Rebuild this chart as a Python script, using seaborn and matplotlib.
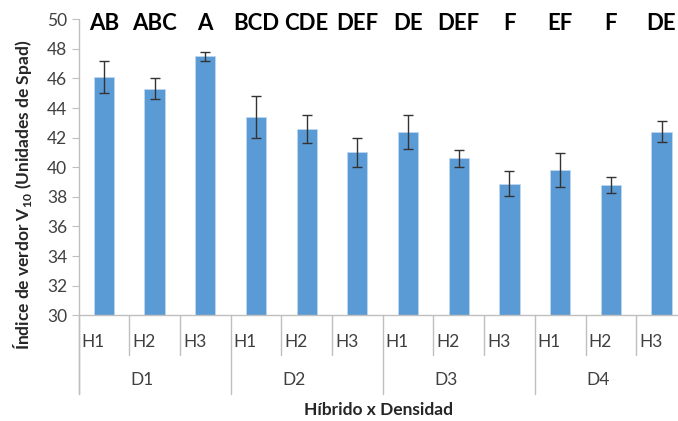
import matplotlib
matplotlib.use("Agg")
import matplotlib.pyplot as plt
import matplotlib.transforms as mtransforms
import numpy as np
import pandas as pd
import seaborn as sns

# Índice de verdor (SPAD) por híbrido y densidad
densidades = ["D1", "D2", "D3", "D4"]
hibridos = ["H1", "H2", "H3"]
valores = [46.1, 45.3, 47.5, 43.4, 42.6, 41.0, 42.4, 40.6, 38.9, 39.8, 38.8, 42.4]
errores = [1.05, 0.7, 0.3, 1.45, 0.95, 0.95, 1.15, 0.55, 0.85, 1.15, 0.55, 0.7]
letras = ["AB", "ABC", "A", "BCD", "CDE", "DEF", "DE", "DEF", "F", "EF", "F", "DE"]
yticks = [30, 32, 34, 36, 38, 40, 42, 44, 46, 48, 50]

sns.set_style("white")
plt.rcParams["font.family"] = ["Lato", "DejaVu Sans"]
plt.rcParams["mathtext.fontset"] = "custom"
plt.rcParams["mathtext.rm"] = "Lato"
plt.rcParams["mathtext.bf"] = "Lato:bold"

df = pd.DataFrame({
    "grupo": [f"{d}-{h}" for d in densidades for h in hibridos],
    "densidad": [d for d in densidades for _ in hibridos],
    "hibrido": [h for _ in densidades for h in hibridos],
    "valor": valores,
    "error": errores,
    "letra": letras,
})

fig = plt.figure(figsize=(6.78, 4.21), dpi=100)
ax = fig.add_axes([78.5 / 678, 1 - 315.3 / 421, 608.4 / 678, 296 / 421])

azul = "#5b9bd5"
gris = "#bfbfbf"
texto = "#404040"

sns.barplot(data=df, x="grupo", y="valor", color=azul, saturation=1,
            width=0.4, edgecolor="#bdd7ee", linewidth=0.6, errorbar=None,
            ax=ax)
pos = np.arange(len(df))
ax.errorbar(pos, df["valor"], yerr=df["error"], fmt="none",
            ecolor="#333333", elinewidth=1.0, capsize=3.3, capthick=1.0)

ax.set_ylim(30, 50)
ax.set_xlim(-0.5, len(df) - 0.5)
ax.set_yticks(yticks)
ax.set_yticklabels([str(v) for v in yticks], fontsize=12.5, color=texto)
ax.tick_params(axis="y", direction="out", length=5, width=0.8, color=gris,
               left=True, pad=3)
ax.tick_params(axis="x", bottom=False, labelbottom=False)
ax.set_xlabel("")
ax.set_ylabel("")

for s in ["top", "right", "left"]:
    ax.spines[s].set_visible(False)
ax.spines["bottom"].set_color(gris)
ax.spines["bottom"].set_linewidth(1.0)

# Eje vertical prolongado hasta la base de las etiquetas de categoría
tr = mtransforms.blended_transform_factory(ax.transData, ax.transAxes)
ax.plot([-0.5, -0.5], [-0.267, 1.0], transform=tr, color=gris, lw=1.0,
        clip_on=False)

# Separadores y etiquetas del eje de categorías en dos niveles
for i in range(len(df)):
    if i % 3 != 0:
        ax.plot([i - 0.5, i - 0.5], [0, -0.135], transform=tr, color=gris,
                lw=1.0, clip_on=False)
    else:
        ax.plot([i - 0.5, i - 0.5], [0, -0.267], transform=tr, color=gris,
                lw=1.0, clip_on=False)
    ax.text(i - 0.44, -0.09, df["hibrido"][i], transform=tr, ha="left",
            va="center", fontsize=12.5, color=texto)
ax.plot([len(df) - 0.5] * 2, [0, -0.267], transform=tr, color=gris, lw=1.0,
        clip_on=False)

for j, d in enumerate(densidades):
    ax.text(3 * j + 1 - 0.25, -0.22, d, transform=tr, ha="center",
            va="center", fontsize=12.5, color=texto)

# Letras de comparación de medias
for i, l in enumerate(df["letra"]):
    ax.text(i, 49.7, l, ha="center", va="center", fontsize=16,
            fontweight="bold", color="black")

fig.text(378 / 678, 1 - 410 / 421, "Híbrido x Densidad", ha="center",
         va="center", fontsize=12.5, fontweight="bold", color="#262626")
fig.text(23 / 678, 1 - 195 / 421,
         r"Índice de verdor V$_{\mathbf{10}}$ (Unidades de Spad)",
         rotation=90, ha="center", va="center", fontsize=12.5,
         fontweight="bold", color="#262626")

fig.savefig("out.png", dpi=100)
